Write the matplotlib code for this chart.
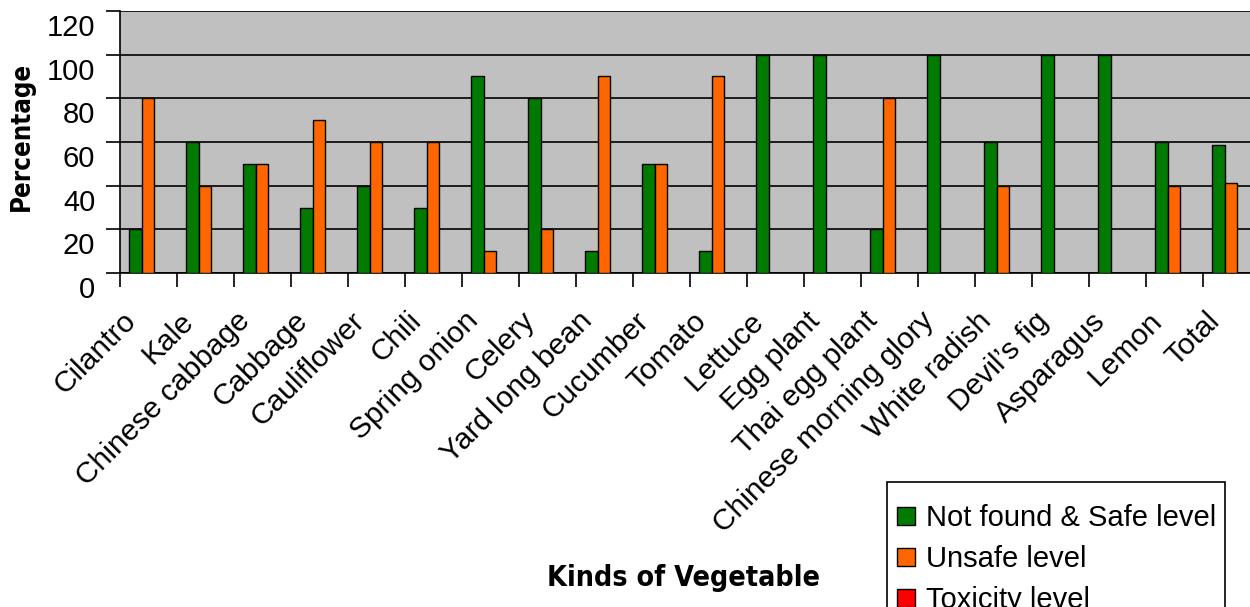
import matplotlib
matplotlib.use("Agg")
import matplotlib.pyplot as plt
import matplotlib.transforms as mtransforms
from matplotlib.patches import Rectangle
import numpy as np

vegetables = ["Cilantro", "Kale", "Chinese cabbage", "Cabbage", "Cauliflower",
              "Chili", "Spring onion", "Celery", "Yard long bean", "Cucumber",
              "Tomato", "Lettuce", "Egg plant", "Thai egg plant",
              "Chinese morning glory", "White radish", "Devil\u2019s fig",
              "Asparagus", "Lemon", "Total"]
safe = [20, 60, 50, 30, 40, 30, 90, 80, 10, 50, 10, 100, 100, 20, 100, 60,
        100, 100, 60, 58.6]
unsafe = [80, 40, 50, 70, 60, 60, 10, 20, 90, 50, 90, 0, 0, 80, 0, 40, 0, 0,
          40, 41.4]
toxic = [0] * 20
y_ticks = [0, 20, 40, 60, 80, 100, 120]

plt.rcParams["font.family"] = ["Liberation Sans", "DejaVu Sans"]

W, H = 1250, 607
fig = plt.figure(figsize=(W / 100, H / 100), dpi=100)
ax = fig.add_axes([0.0956, 0.5502, 0.912, 0.4317])
ax.set_facecolor("#C0C0C0")

x = np.arange(len(vegetables))
w = 0.222
kw = dict(width=w, edgecolor="black", linewidth=1.0, zorder=3)
ax.bar(x - w, safe, color="#007A00", label="Not found & Safe level", **kw)
ax.bar(x, unsafe, color="#FF6600", label="Unsafe level", **kw)
ax.bar(x + w, toxic, color="#FF0000", label="Toxicity level", **kw)

ax.set_xlim(-0.5, len(vegetables) - 0.5)
ax.set_ylim(0, 120)
ax.set_yticks(y_ticks)
ax.set_yticklabels([str(v) for v in y_ticks], fontsize=21)
ax.yaxis.grid(True, color="black", linewidth=1.2, zorder=1)
ax.set_axisbelow(True)

ax.set_xticks(x)
ax.set_xticklabels(vegetables, rotation=45, ha="right",
                   rotation_mode="anchor", fontsize=21.5)
ax.tick_params(axis="x", length=0, pad=12)
ax.set_xticks(np.arange(len(vegetables) + 1) - 0.5, minor=True)
ax.tick_params(axis="x", which="minor", length=10, width=1.2, direction="out")
ax.tick_params(axis="y", length=10, width=1.2, direction="out", pad=7.5)

# Excel-style label placement: value labels sit a little low, category
# labels a little left of their slot
y_shift = mtransforms.ScaledTranslation(0, -14 / 100, fig.dpi_scale_trans)
for lbl in ax.get_yticklabels():
    lbl.set_transform(lbl.get_transform() + y_shift)
x_shift = mtransforms.ScaledTranslation(-26 / 100, -17 / 100, fig.dpi_scale_trans)
for lbl in ax.get_xticklabels():
    lbl.set_transform(lbl.get_transform() + x_shift)

for s in ["top", "right"]:
    ax.spines[s].set_visible(False)
ax.spines["left"].set_linewidth(1.2)
ax.spines["bottom"].set_linewidth(1.2)

fig.text(0.0176, 0.776, "Percentage", rotation=90, ha="center", va="center",
         fontsize=18.5, fontweight="bold", family="DejaVu Sans",
         fontstretch="condensed")
fig.text(0.547, 0.047, "Kinds of Vegetable", ha="center", va="center",
         fontsize=20.5, fontweight="bold", family="DejaVu Sans",
         fontstretch="condensed")

# Legend box runs off the bottom of the figure
fig.add_artist(Rectangle((887 / W, -0.05), (1225 - 887) / W, 0.05 + 1 - 482 / H,
                         transform=fig.transFigure, facecolor="white",
                         edgecolor="black", linewidth=1.2, zorder=4))
leg = fig.legend(loc="upper left", bbox_to_anchor=(887 / W, 1 - 494 / H),
                 fontsize=21, frameon=False,
                 handlelength=0.6, handleheight=0.6, handletextpad=0.4,
                 borderpad=0.35, labelspacing=0.45, borderaxespad=0)
leg.set_zorder(5)

fig.savefig("out.png", dpi=100)
